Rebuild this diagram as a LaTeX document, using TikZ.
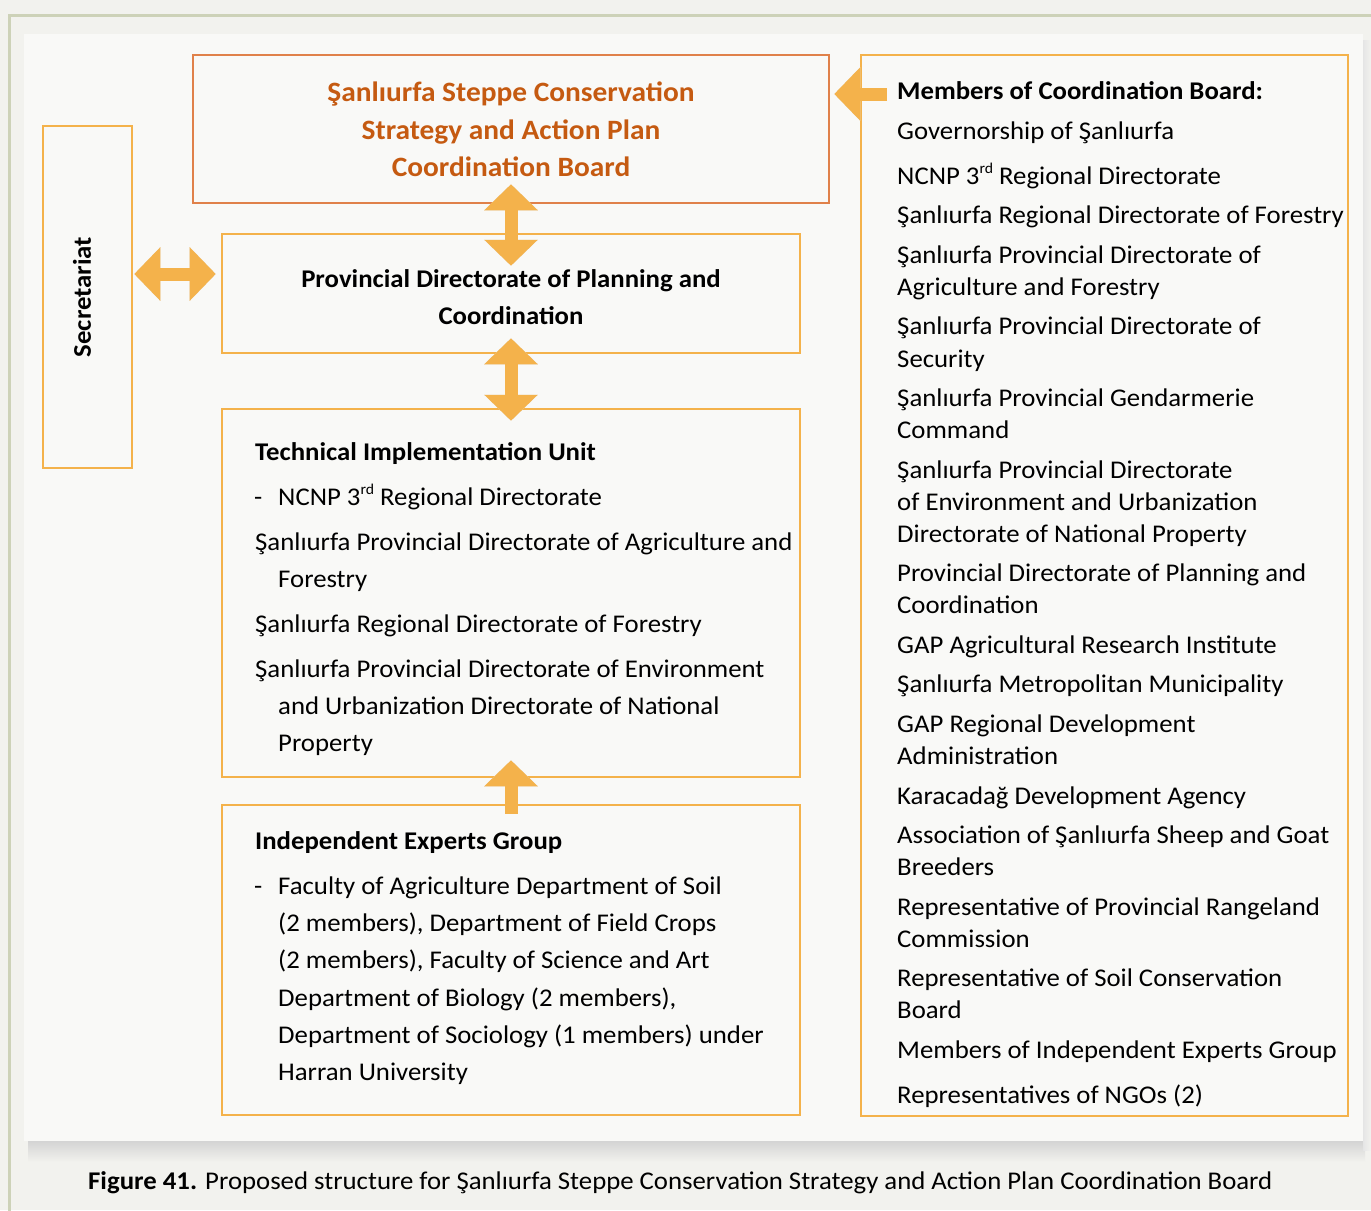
\documentclass[tikz,border=0pt]{standalone}
\usepackage{fontspec}
\setmainfont{Carlito}[FakeStretch=1.05]
\usetikzlibrary{arrows.meta,calc}
\definecolor{pagebg}{HTML}{F2F2EE}
\definecolor{framecol}{HTML}{CDD2B8}
\definecolor{panelbg}{HTML}{F9F9F7}
\definecolor{orangeb}{HTML}{E0814A}
\definecolor{titletxt}{HTML}{C55A11}
\definecolor{ycol}{HTML}{F4B24B}
\definecolor{shadowcol}{HTML}{E3E3DF}
\newcommand{\myrd}{\raisebox{0.42em}{\fontsize{15bp}{15bp}\selectfont rd}}
\begin{document}
\begin{tikzpicture}[x=1bp,y=-1bp,
  ybox/.style={draw=ycol, line width=2.5bp, inner sep=0pt, fill=panelbg},
  obox/.style={draw=orangeb, line width=2.5bp, inner sep=0pt, fill=panelbg},
  txt/.style={anchor=base west, inner sep=0pt, font=\fontsize{25.5bp}{30bp}\selectfont},
  btxt/.style={anchor=base west, inner sep=0pt, font=\fontsize{25.5bp}{30bp}\selectfont\bfseries},
  ctxt/.style={anchor=base, inner sep=0pt, font=\fontsize{25.5bp}{30bp}\selectfont\bfseries},
  ttxt/.style={anchor=base, inner sep=0pt, text=titletxt, font=\fontsize{28bp}{32bp}\selectfont\bfseries},
  dblarr/.style={draw=ycol, line width=13bp, {Triangle[width=52bp,length=26bp]}-{Triangle[width=52bp,length=26bp]}},
  onearr/.style={draw=ycol, line width=13bp, -{Triangle[width=52bp,length=26bp]}},
  dblshadow/.style={draw=shadowcol, line width=13bp, {Triangle[width=52bp,length=26bp]}-{Triangle[width=52bp,length=26bp]}},
  oneshadow/.style={draw=shadowcol, line width=13bp, -{Triangle[width=52bp,length=26bp]}}
]
% page background and frame
\fill[pagebg] (0,0) rectangle (1371,1210);
\useasboundingbox (0,0) rectangle (1371,1210);
\draw[framecol, line width=3bp] (9.5,1215) -- (9.5,15.5) -- (1380,15.5);
% panel with shadow
\shade[top color=black!17, bottom color=pagebg] (28,1141) rectangle (1365,1162);
\shade[left color=black!10, right color=pagebg] (1363,40) rectangle (1371,1150);
\fill[panelbg] (24,34) rectangle (1363,1141);

% boxes
\node[obox, minimum width=636bp, minimum height=148bp] (title) at (511,129) {};
\node[ybox, minimum width=89bp, minimum height=342bp] (sec) at (87.5,297) {};
\node[ybox, minimum width=578bp, minimum height=119bp] (prov) at (511,293.5) {};
\node[ybox, minimum width=578bp, minimum height=368bp] (tech) at (511,593) {};
\node[ybox, minimum width=578bp, minimum height=310bp] (indep) at (511,960) {};
\node[ybox, minimum width=487bp, minimum height=1061bp] (memb) at (1104.5,585.5) {};

% rows for horizontal arrows
\coordinate (srow) at (0,274);
\coordinate (mrow) at (0,94);

% arrow shadows
\begin{scope}[shift={(2,3)}]
\draw[dblshadow] ([yshift=20bp]title.south) -- ([yshift=-33bp]prov.north);
\draw[dblshadow] ([yshift=16bp]prov.south) -- ([yshift=-13bp]tech.north);
\draw[dblshadow, shorten <=1bp, shorten >=5bp] (sec.east |- srow) -- (prov.west |- srow);
\draw[oneshadow] ([yshift=-10bp]indep.north) -- ([yshift=18bp]tech.south);
\draw[oneshadow, shorten <=-27bp, shorten >=4bp] (memb.west |- mrow) -- (title.east |- mrow);
\end{scope}
% arrows
\draw[dblarr] ([yshift=20bp]title.south) -- ([yshift=-33bp]prov.north);
\draw[dblarr] ([yshift=16bp]prov.south) -- ([yshift=-13bp]tech.north);
\draw[dblarr, shorten <=1bp, shorten >=5bp] (sec.east |- srow) -- (prov.west |- srow);
\draw[onearr] ([yshift=-10bp]indep.north) -- ([yshift=18bp]tech.south);
\draw[onearr, shorten <=-27bp, shorten >=4bp] (memb.west |- mrow) -- (title.east |- mrow);

% title text
\node[ttxt] (t1) at (511,101) {Şanlıurfa Steppe Conservation};
\node[ttxt] (t2) at (511,139) {Strategy and Action Plan};
\node[ttxt] (t3) at (511,176) {Coordination Board};
% provincial directorate text
\node[ctxt] (p1) at (511,287) {Provincial Directorate of Planning and};
\node[ctxt] (p2) at (511,324) {Coordination};
% secretariat
\node[inner sep=0pt, rotate=90, font=\fontsize{25.5bp}{30bp}\selectfont\bfseries] (st) at (82,297) {Secretariat};

% technical implementation unit
\node[btxt] (th) at (255,460) {Technical Implementation Unit};
\node[txt] (td) at (254,505) {-};
\foreach \xx/\yy/\tx [count=\i] in {
  278/505/{NCNP 3\myrd{} Regional Directorate},
  255/550/{Şanlıurfa Provincial Directorate of Agriculture and},
  278/587/{Forestry},
  255/632/{Şanlıurfa Regional Directorate of Forestry},
  255/677/{Şanlıurfa Provincial Directorate of Environment},
  278/714/{and Urbanization Directorate of National},
  278/751/{Property}}
  \node[txt] (tl\i) at (\xx,\yy) {\tx};

% independent experts group
\node[btxt] (ih) at (255,849) {Independent Experts Group};
\node[txt] (id) at (254,894) {-};
\foreach \yy/\tx [count=\i] in {
  894/{Faculty of Agriculture Department of Soil},
  931/{(2 members), Department of Field Crops},
  968/{(2 members), Faculty of Science and Art},
  1006/{Department of Biology (2 members),},
  1043/{Department of Sociology (1 members) under},
  1080/{Harran University}}
  \node[txt] (il\i) at (278,\yy) {\tx};

% members
\node[btxt] (mh) at (897,99) {Members of Coordination Board:};
\foreach \yy/\tx [count=\i] in {
  139/{Governorship of Şanlıurfa},
  184/{NCNP 3\myrd{} Regional Directorate},
  223/{Şanlıurfa Regional Directorate of Forestry},
  263/{Şanlıurfa Provincial Directorate of},
  295/{Agriculture and Forestry},
  334/{Şanlıurfa Provincial Directorate of},
  367/{Security},
  406/{Şanlıurfa Provincial Gendarmerie},
  438/{Command},
  478/{Şanlıurfa Provincial Directorate},
  510/{of Environment and Urbanization},
  542/{Directorate of National Property},
  581/{Provincial Directorate of Planning and},
  613/{Coordination},
  653/{GAP Agricultural Research Institute},
  692/{Şanlıurfa Metropolitan Municipality},
  732/{GAP Regional Development},
  764/{Administration},
  804/{Karacadağ Development Agency},
  843/{Association of Şanlıurfa Sheep and Goat},
  875/{Breeders},
  915/{Representative of Provincial Rangeland},
  947/{Commission},
  986/{Representative of Soil Conservation},
  1018/{Board},
  1058/{Members of Independent Experts Group},
  1103/{Representatives of NGOs (2)}}
  \node[txt] (ml\i) at (897,\yy) {\tx};

% caption
\node[txt] (cap) at (88,1189) {\textbf{Figure 41.} Proposed structure for Şanlıurfa Steppe Conservation Strategy and Action Plan Coordination Board};
\end{tikzpicture}
\end{document}
